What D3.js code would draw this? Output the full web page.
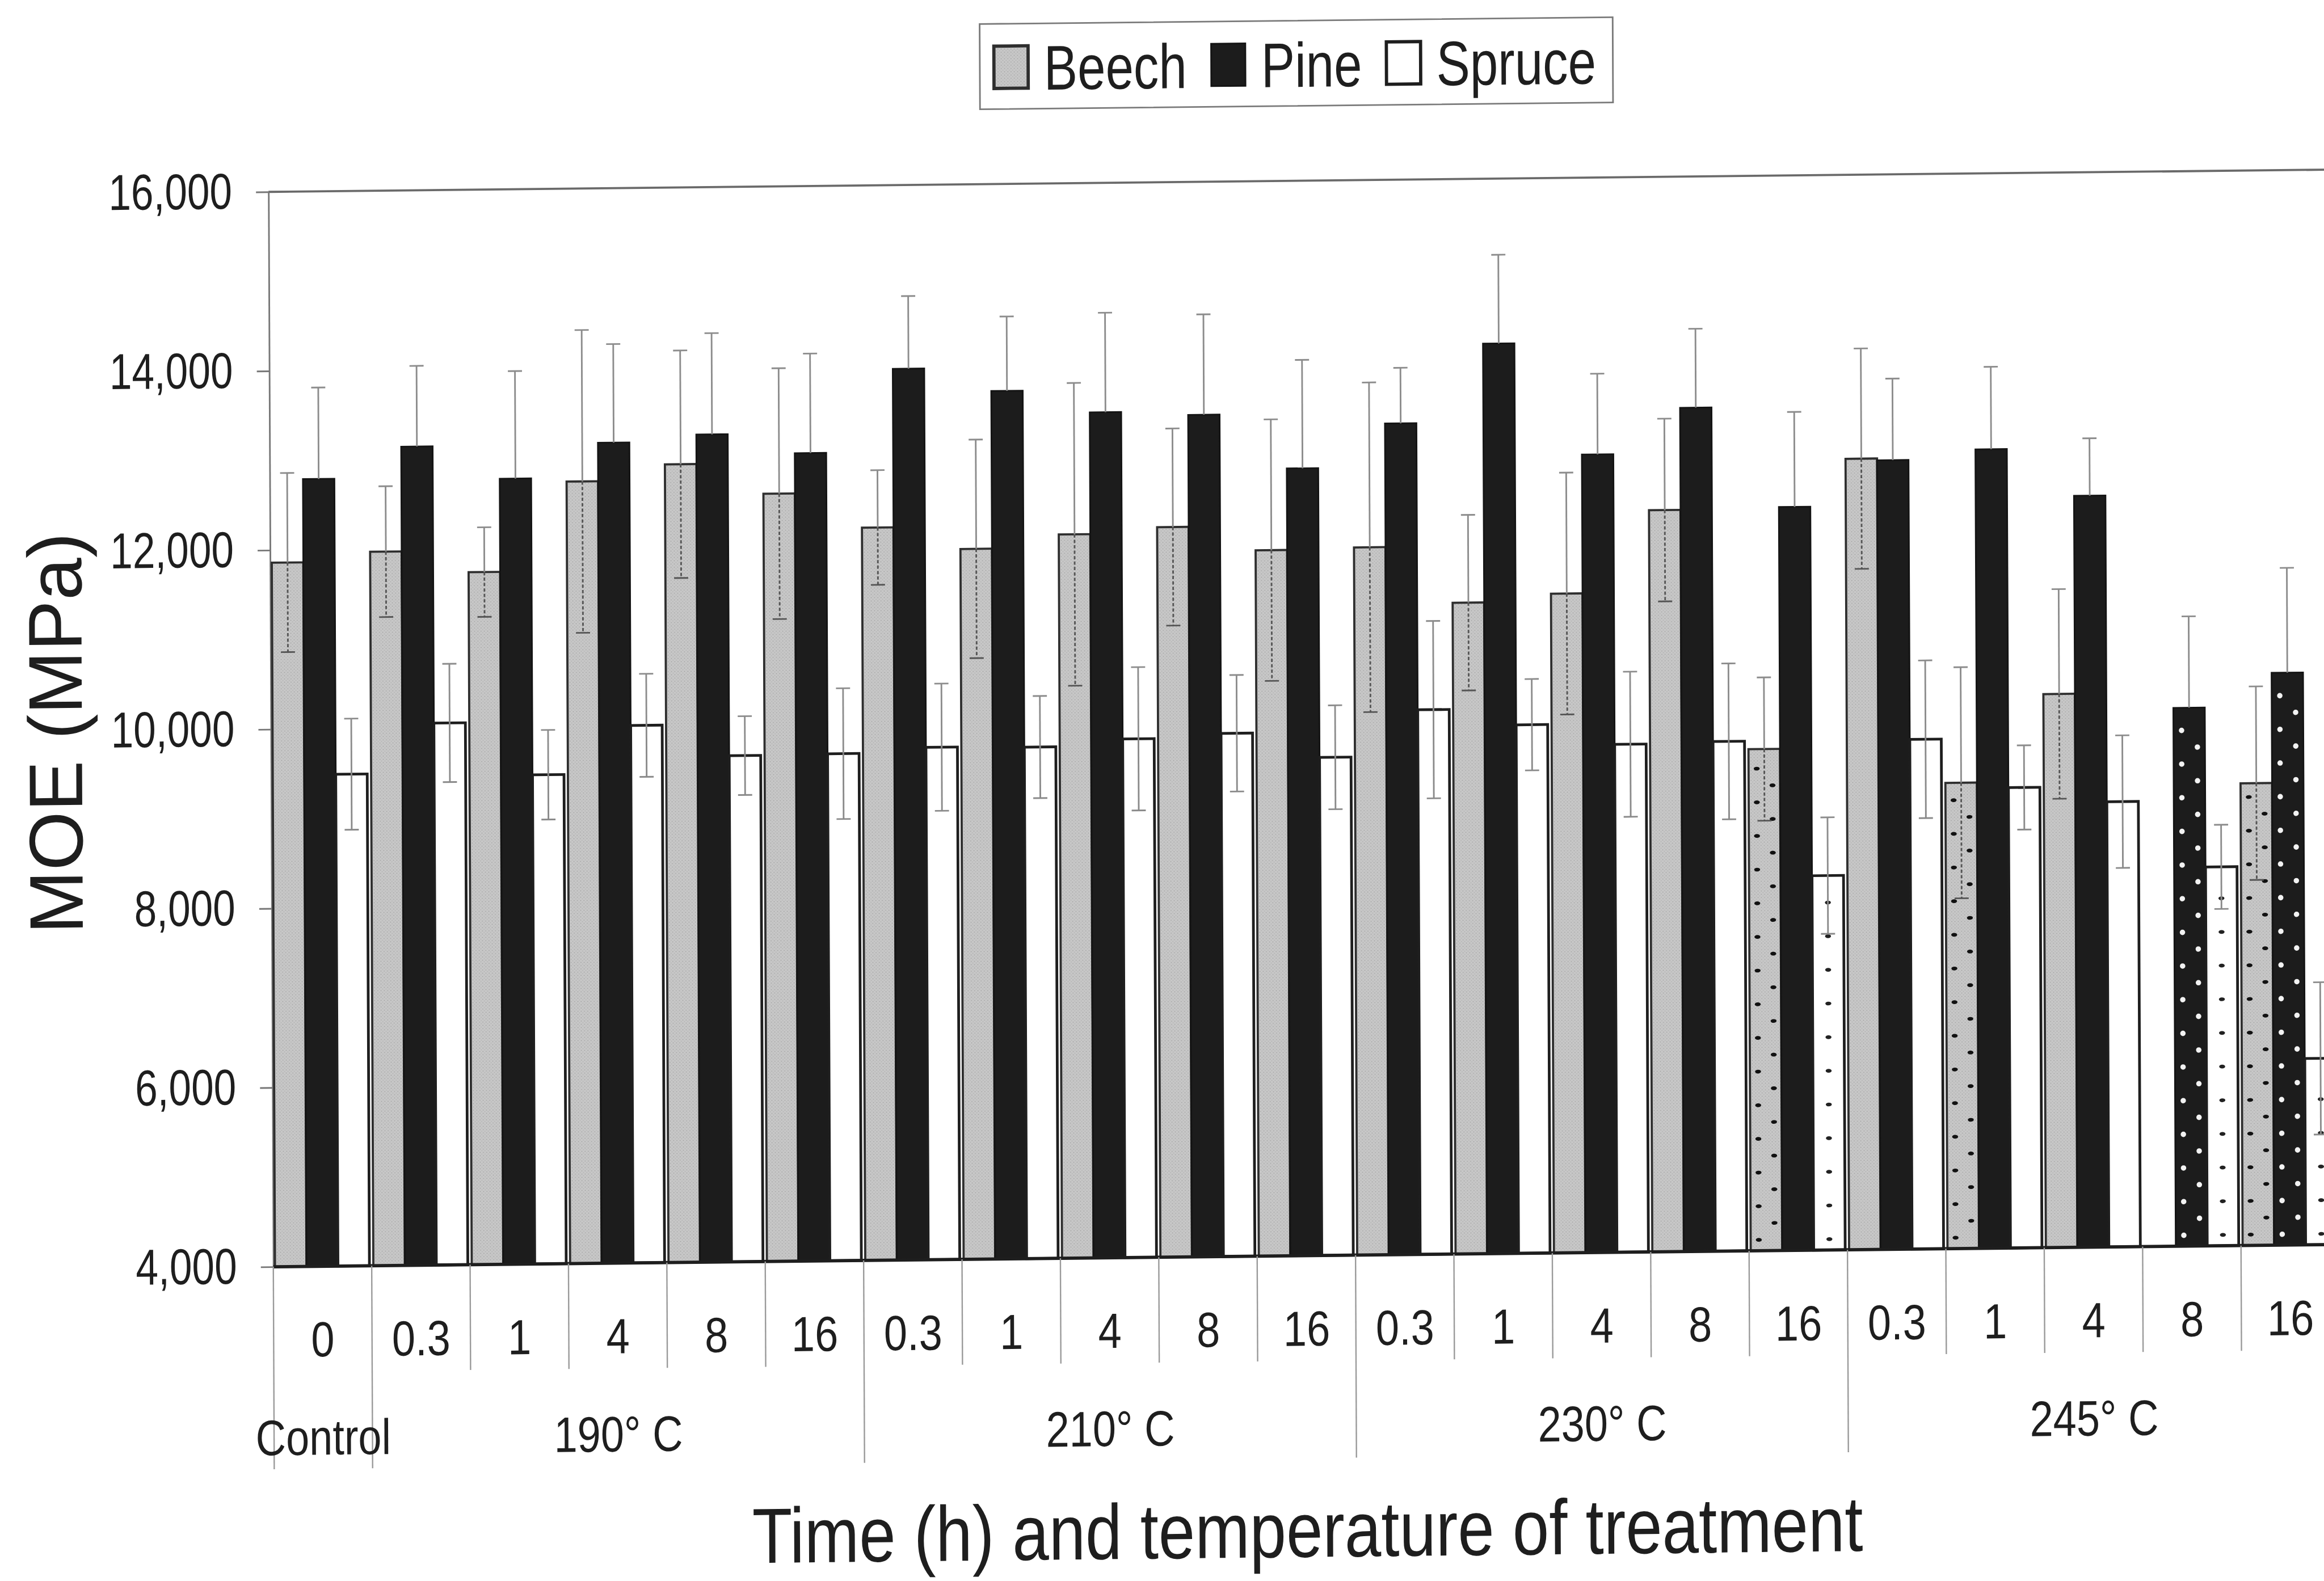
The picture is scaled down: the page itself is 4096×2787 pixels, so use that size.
<!DOCTYPE html>
<html>
<head>
<meta charset="utf-8">
<script src="https://cdn.jsdelivr.net/npm/d3@7"></script>
<style>
    html, body { margin: 0; padding: 0; background: #fff; }
    svg { display: block; }
    text { font-family: "Liberation Sans", Arial, sans-serif; fill: #1e1e1e; }
</style>
</head>
<body>
<div id="chart"></div>
<script>
// values (MPa)
var hours = ["0", "0.3", "1", "4", "8", "16", "0.3", "1", "4", "8", "16",
    "0.3", "1", "4", "8", "16", "0.3", "1", "4", "8", "16"];
var tempLabels = ["Control", "190° C", "210° C", "230° C", "245° C"];
var tempGroupCounts = [1, 5, 5, 5, 5];
var species = ["Beech", "Pine", "Spruce"];

var beechMoe = [11860, 11970, 11730, 12730, 12910, 12570, 12180, 11930, 12080, 12150, 11880,
    11900, 11270, 11360, 12280, 9600, 12830, 9200, 10180, null, 9160];
var beechSd = [1000, 730, 500, 1690, 1270, 1400, 640, 1220, 1690, 1100, 1460,
    1840, 980, 1350, 1020, 800, 1230, 1290, 1170, null, 1080];
var pineMoe = [12790, 13140, 12770, 13160, 13240, 13020, 13950, 13690, 13440, 13400, 12790,
    13280, 14160, 12910, 13420, 12300, 12810, 12920, 12390, 10010, 10390];
var pineSd = [1020, 900, 1200, 1100, 1130, 1110, 810, 830, 1110, 1120, 1210,
    620, 990, 900, 880, 1060, 910, 920, 640, 1020, 1170];
var spruceMoe = [9490, 10050, 9460, 10000, 9650, 9660, 9720, 9710, 9790, 9840, 9560,
    10080, 9900, 9670, 9690, 8180, 9690, 9140, 8970, 8230, 6080];
var spruceSd = [620, 660, 500, 575, 440, 730, 710, 570, 800, 650, 580,
    990, 510, 810, 870, 650, 880, 470, 740, 470, 850];

// bars drawn with the dotted fill in the original
var beechMarked = [15, 17, 20];
var pineMarked = [19, 20];
var spruceMarked = [15, 19, 20];

var yTicks = [4000, 6000, 8000, 10000, 12000, 14000, 16000];

// layout, in pixels of the original scan; scaled down at the end
var scaleAll = 0.957;
var plotLeft = 499, plotRight = 4304, yBottom = 2314, yTop = 334;
var shearCx = 2300, shearCy = 1340;

var moe = {Beech: beechMoe, Pine: pineMoe, Spruce: spruceMoe};
var sd = {Beech: beechSd, Pine: pineSd, Spruce: spruceSd};
var marked = {Beech: beechMarked, Pine: pineMarked, Spruce: spruceMarked};

var style = {
    Beech: {fill: "url(#beechFill)", stroke: "#2e2e2e", sw: 4, dot: "#111", lower: "#555", lowerDash: "6,4"},
    Pine: {fill: "#1c1c1c", stroke: "#141414", sw: 3, dot: "#f2f2f2", lower: null, lowerDash: null},
    Spruce: {fill: "#ffffff", stroke: "#1e1e1e", sw: 5, dot: "#222", lower: "#8a8a8a", lowerDash: null}
};

var svg = d3.select("#chart").append("svg")
    .attr("width", 4096).attr("height", 2787);
svg.append("rect").attr("width", 4096).attr("height", 2787).attr("fill", "#fff");

var defs = svg.append("defs");
var beechPat = defs.append("pattern").attr("id", "beechFill")
    .attr("patternUnits", "userSpaceOnUse").attr("width", 6).attr("height", 6);
beechPat.append("rect").attr("width", 6).attr("height", 6).attr("fill", "#c8c8c8");
beechPat.append("circle").attr("cx", 1.5).attr("cy", 1.5).attr("r", 1.1).attr("fill", "#a6a6a6");
beechPat.append("circle").attr("cx", 4.5).attr("cy", 4.5).attr("r", 1.1).attr("fill", "#b2b2b2");

// the scan is slightly tilted: reproduce it with a small shear
var root = svg.append("g")
    .attr("transform", "scale(" + scaleAll + ") translate(" + shearCx + "," + shearCy + ")" +
        " matrix(1,-0.0108,0.0045,1,0,0) translate(" + (-shearCx) + "," + (-shearCy) + ")");

var x0 = d3.scaleBand().domain(d3.range(hours.length)).range([plotLeft, plotRight]);
var x1 = d3.scaleBand().domain(species).range([3, 177]);
var y = d3.scaleLinear().domain([4000, 16000]).range([yBottom, yTop]);

function addText(g, txt, x, yy, size, sx, anchor) {
    return g.append("text")
        .attr("transform", "translate(" + x + "," + yy + ") scale(" + sx + ",1)")
        .attr("text-anchor", anchor)
        .style("font-size", size + "px")
        .text(txt);
}

// top frame line
root.append("line")
    .attr("x1", plotLeft).attr("x2", plotRight)
    .attr("y1", y(16000)).attr("y2", y(16000))
    .attr("stroke", "#6a6a6a").attr("stroke-width", 4);

// y axis
var yAxis = d3.axisLeft(y).tickValues(yTicks).tickFormat(d3.format(",")).tickSize(23).tickSizeOuter(0);
var gy = root.append("g").attr("transform", "translate(" + plotLeft + ",0)").call(yAxis);
gy.attr("font-size", null).attr("font-family", null);
gy.select(".domain").attr("stroke", "#777").attr("stroke-width", 3);
gy.selectAll(".tick line").attr("stroke", "#777").attr("stroke-width", 3);
gy.selectAll(".tick text")
    .attr("x", -67 / 0.8).attr("transform", "scale(0.8,1)")
    .style("font-size", "93px").attr("fill", "#1e1e1e");

// bars
var rows = hours.map(function (h, i) {
    return {
        i: i,
        items: species.filter(function (s) { return moe[s][i] !== null; })
            .map(function (s) { return {s: s, v: moe[s][i], e: sd[s][i], dotted: marked[s].indexOf(i) >= 0}; })
    };
});

var groups = root.selectAll(".grp").data(rows).enter().append("g")
    .attr("class", "grp")
    .attr("transform", function (d) { return "translate(" + x0(d.i) + ",0)"; });

groups.selectAll("rect.bar").data(function (d) { return d.items; }).enter().append("rect")
    .attr("class", "bar")
    .attr("x", function (d) { return x1(d.s); })
    .attr("y", function (d) { return y(d.v); })
    .attr("width", x1.bandwidth())
    .attr("height", function (d) { return yBottom - y(d.v); })
    .attr("fill", function (d) { return style[d.s].fill; })
    .attr("stroke", function (d) { return style[d.s].stroke; })
    .attr("stroke-width", function (d) { return style[d.s].sw; });

function markDots(d) {
    var bw = x1.bandwidth();
    var cols = d.s === "Spruce" ? [bw / 2] : [15, bw - 14];
    var step = 62, pts = [];
    cols.forEach(function (cx, k) {
        for (var yy = yBottom - 20 - k * step / 2; yy > y(d.v) + 14; yy -= step) {
            pts.push({x: x1(d.s) + cx, y: yy, s: d.s});
        }
    });
    return pts;
}

groups.selectAll("ellipse.dot")
    .data(function (d) {
        return d.items.filter(function (it) { return it.dotted; })
            .reduce(function (acc, it) { return acc.concat(markDots(it)); }, []);
    })
    .enter().append("ellipse")
    .attr("class", "dot")
    .attr("cx", function (d) { return d.x; })
    .attr("cy", function (d) { return d.y; })
    .attr("rx", function (d) { return d.s === "Pine" ? 5 : 5.5; })
    .attr("ry", function (d) { return d.s === "Pine" ? 5 : 3.5; })
    .attr("fill", function (d) { return style[d.s].dot; });

// error bars
var capHalf = 13;
var err = groups.selectAll("g.err").data(function (d) { return d.items; }).enter().append("g")
    .attr("class", "err")
    .attr("transform", function (d) { return "translate(" + (x1(d.s) + x1.bandwidth() / 2) + ",0)"; });
err.append("line")
    .attr("y1", function (d) { return y(d.v); })
    .attr("y2", function (d) { return y(d.v + d.e); })
    .attr("stroke", "#8c8c8c").attr("stroke-width", 3);
err.append("line")
    .attr("x1", -capHalf).attr("x2", capHalf)
    .attr("y1", function (d) { return y(d.v + d.e); })
    .attr("y2", function (d) { return y(d.v + d.e); })
    .attr("stroke", "#8c8c8c").attr("stroke-width", 3);
var lowerErr = err.filter(function (d) { return style[d.s].lower !== null; });
lowerErr.append("line")
    .attr("y1", function (d) { return y(d.v); })
    .attr("y2", function (d) { return y(d.v - d.e); })
    .attr("stroke", function (d) { return style[d.s].lower; })
    .attr("stroke-dasharray", function (d) { return style[d.s].lowerDash; })
    .attr("stroke-width", 3);
lowerErr.append("line")
    .attr("x1", -capHalf).attr("x2", capHalf)
    .attr("y1", function (d) { return y(d.v - d.e); })
    .attr("y2", function (d) { return y(d.v - d.e); })
    .attr("stroke", function (d) { return style[d.s].lower; })
    .attr("stroke-width", 3);

// category axis: baseline, separators, labels
root.append("line")
    .attr("x1", plotLeft).attr("x2", plotRight)
    .attr("y1", yBottom).attr("y2", yBottom)
    .attr("stroke", "#1e1e1e").attr("stroke-width", 6);

var sectionEdges = [0];
tempGroupCounts.forEach(function (n, k) { sectionEdges.push(sectionEdges[k] + n); });

var step = x0.step();
root.selectAll("line.sep").data(d3.range(hours.length + 1)).enter().append("line")
    .attr("class", "sep")
    .attr("x1", function (i) { return plotLeft + i * step; })
    .attr("x2", function (i) { return plotLeft + i * step; })
    .attr("y1", yBottom)
    .attr("y2", function (i) { return sectionEdges.indexOf(i) >= 0 ? 2687 : 2508; })
    .attr("stroke", "#9a9a9a").attr("stroke-width", 2.5);

hours.forEach(function (h, i) {
    addText(root, h, x0(i) + step / 2, 2480, 91, 0.85, "middle");
});

tempLabels.forEach(function (t, k) {
    var cx = plotLeft + (sectionEdges[k] + sectionEdges[k + 1]) / 2 * step;
    addText(root, t, cx, 2661, 92, 0.84, "middle");
});

// axis titles
addText(root, "Time (h) and temperature of treatment", (plotLeft + plotRight) / 2, 2869, 144, 0.84, "middle");
root.append("text")
    .attr("transform", "translate(151,1327) rotate(-90)")
    .attr("text-anchor", "middle")
    .style("font-size", "140px")
    .text("MOE (MPa)");

// legend
var legend = root.append("g");
var legendBox = legend.append("rect")
    .attr("fill", "#fff").attr("stroke", "#7a7a7a").attr("stroke-width", 3);
var lx = 1836;
species.forEach(function (s, k) {
    legend.append("rect")
        .attr("x", lx).attr("y", 80).attr("width", 63).attr("height", 78)
        .attr("fill", style[s].fill).attr("stroke", style[s].stroke)
        .attr("stroke-width", s === "Pine" ? 3 : 6);
    var t = addText(legend, s, lx + 92, 161, 116, 0.8, "start");
    lx = lx + 92 + t.node().getComputedTextLength() * 0.8;
    if (k < species.length - 1) {
        lx += 45;
    }
});
legendBox.attr("x", 1810).attr("y", 39).attr("width", lx + 31 - 1810).attr("height", 157);
</script>
</body>
</html>
